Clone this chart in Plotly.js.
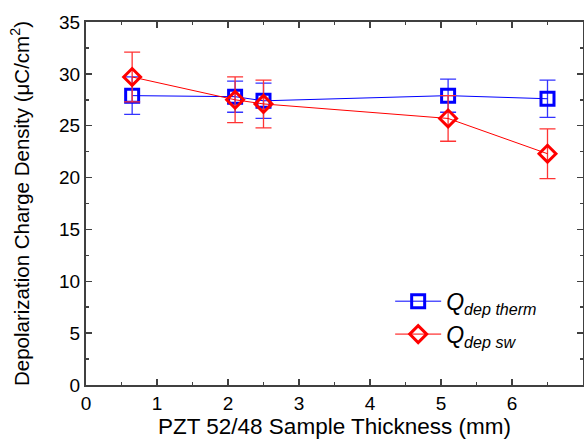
<!DOCTYPE html>
<html><head><meta charset="utf-8">
<script src="https://cdn.plot.ly/plotly-3.0.1.min.js"></script>
<style>body{margin:0;padding:0;background:#fff}#chart{width:584px;height:444px}</style>
</head><body><div id="chart"></div>
<script>
const thickness = [0.65, 2.1, 2.5, 5.1, 6.5];
const qTherm = [27.9, 27.8, 27.4, 27.9, 27.6];
const qThermErr = [1.8, 1.5, 1.7, 1.6, 1.8];
const qSw = [29.7, 27.5, 27.1, 25.7, 22.3];
const qSwErr = [2.4, 2.2, 2.3, 2.2, 2.4];

const traces = [
  {x: thickness, y: qTherm, type: 'scatter', mode: 'lines+markers',
   name: '<i>Q</i><sub><i>dep therm</i></sub>',
   line: {color: '#0000ff', width: 1},
   marker: {symbol: 'square-open', size: 13, color: '#0000ff', line: {width: 3, color: '#0000ff'}},
   error_y: {type: 'data', array: qThermErr, visible: true, color: '#3333ff', thickness: 1.3, width: 8}},
  {x: thickness, y: qSw, type: 'scatter', mode: 'lines+markers',
   name: '<i>Q</i><sub><i>dep sw</i></sub>',
   line: {color: '#ff0000', width: 1},
   marker: {symbol: 'diamond-open', size: 13, color: '#ff0000', line: {width: 3, color: '#ff0000'}},
   error_y: {type: 'data', array: qSwErr, visible: true, color: '#ff3333', thickness: 1.3, width: 8}}
];

const layout = {
  width: 584, height: 444,
  margin: {l: 86, r: 1, t: 22, b: 59},
  paper_bgcolor: '#fff', plot_bgcolor: '#fff',
  font: {family: 'Liberation Sans, Arial, sans-serif', color: '#000', size: 19},
  showlegend: true,
  legend: {x: 0.612, y: 0.29, xanchor: 'left', yanchor: 'top', bgcolor: 'rgba(0,0,0,0)',
           font: {size: 23}, tracegroupgap: 0, itemwidth: 46},
  xaxis: {range: [0, 7], dtick: 1, showline: true, mirror: 'ticks', linecolor: '#404040', linewidth: 2,
          ticks: 'inside', ticklen: 6, tickcolor: '#404040', tickwidth: 1.5, showgrid: false, zeroline: false,
          minor: {dtick: 0.5, ticks: 'inside', ticklen: 3, tickcolor: '#404040'},
          tickfont: {size: 19},
          title: {text: 'PZT 52/48 Sample Thickness (mm)', font: {size: 22.5}, standoff: 5}},
  yaxis: {range: [0, 35], dtick: 5, showline: true, mirror: 'ticks', linecolor: '#404040', linewidth: 2,
          ticks: 'inside', ticklen: 6, tickcolor: '#404040', tickwidth: 1.5, showgrid: false, zeroline: false,
          minor: {dtick: 2.5, ticks: 'inside', ticklen: 3, tickcolor: '#404040'},
          tickfont: {size: 19},
          title: {text: 'Depolarization Charge Density (μC/cm<sup>2</sup>)', font: {size: 20.5}, standoff: 24}}
};
Plotly.newPlot('chart', traces, layout, {displayModeBar: false, staticPlot: true});
</script></body></html>
